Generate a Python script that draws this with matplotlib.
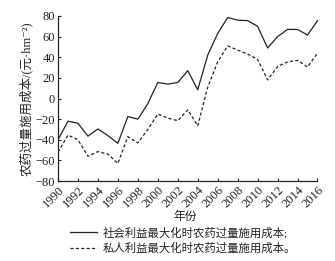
import matplotlib
matplotlib.use("Agg")
import matplotlib.pyplot as plt
from matplotlib.lines import Line2D

plt.rcParams['font.family'] = ['Liberation Serif', 'Noto Sans CJK SC', 'DejaVu Sans']
plt.rcParams['axes.unicode_minus'] = True

years = list(range(1990, 2017))
social = [-40, -22, -24, -36.5, -29.5, -36, -43.5, -17.5, -20, -5, 15.5, 14, 15.5, 27, 8.5,
          42, 63, 78.5, 76, 75.5, 70, 49, 60, 67, 67, 61.5, 75.5]
private = [-52, -35.5, -40, -56, -51.5, -54, -63, -37, -43, -30, -15, -19, -21.5, -11, -26.5,
           11, 35.5, 51, 47, 43, 38, 18, 31, 35.5, 37, 30.5, 44]
xticks = list(range(1990, 2017, 2))
yticks = list(range(-80, 81, 20))
label_social = "社会利益最大化时农药过量施用成本;"
label_private = "私人利益最大化时农药过量施用成本。"
ylabel = "农药过量施用成本/(元·hm\u207b\u00b2)"
xlabel = "年份"

fig = plt.figure(figsize=(3.35, 2.61), dpi=100)
ax = fig.add_axes([58/335, 1 - 181/261, (317.5 - 58)/335, (181 - 16)/261])
ax.plot(years, social, color='#222222', lw=0.9, ls='-')
ax.plot(years, private, color='#222222', lw=0.9, ls=(0, (2.5, 1.8)))
ax.set_xlim(1990, 2016)
ax.set_ylim(-80, 80)
ax.set_xticks(xticks)
ax.set_yticks(yticks)
ax.set_xticklabels([str(t) for t in xticks], rotation=45, ha='right', rotation_mode='anchor', fontsize=9)
ax.set_yticklabels([str(t).replace('-', '\u2212') for t in yticks], fontsize=9)
ax.tick_params(direction='in', length=2.5, width=0.8, pad=2, colors='#222222')
for s in ['top', 'right']:
    ax.spines[s].set_visible(False)
for s in ['left', 'bottom']:
    ax.spines[s].set_linewidth(0.9)
    ax.spines[s].set_color('#222222')
ax.set_ylabel(ylabel, fontsize=9, labelpad=2, color='#222222')
fig.text(185/335, 1 - 217/261, xlabel, fontsize=8.5, ha='center', va='center', color='#222222')

handles = [Line2D([], [], color='#222222', lw=0.9, ls='-'),
           Line2D([], [], color='#222222', lw=0.9, ls=(0, (2.5, 1.8)))]
fig.legend(handles, [label_social, label_private], loc='center', bbox_to_anchor=(183/335, 1 - 240/261),
           frameon=False, fontsize=8.2, handlelength=2.4, handletextpad=0.5, labelspacing=0.35,
           borderpad=0, labelcolor='#222222')

fig.savefig("out.png", dpi=100)
